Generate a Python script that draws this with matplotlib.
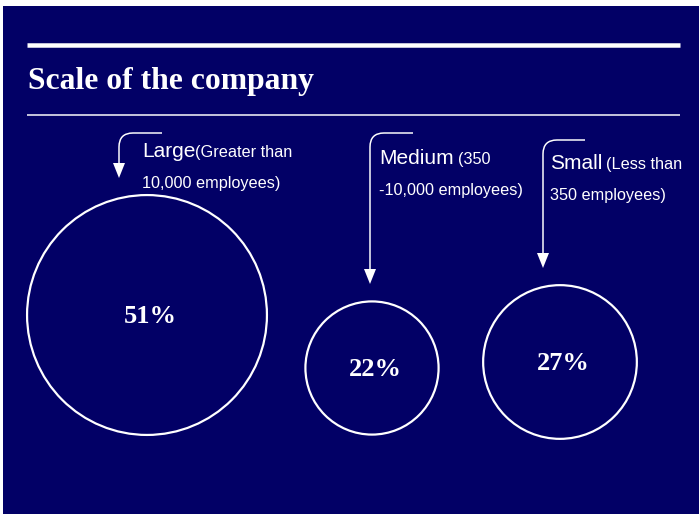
import matplotlib
matplotlib.use("Agg")
import matplotlib.pyplot as plt
from matplotlib.patches import Circle, Rectangle, Polygon, PathPatch
from matplotlib.path import Path

# Data
categories = ["Large", "Medium", "Small"]
shares = [51, 22, 27]
ranges = ["(Greater than\n10,000 employees)", "(350\n-10,000 employees)", "(Less than\n350 employees)"]
title = "Scale of the company"

NAVY = "#020066"
WHITE = "#ffffff"
W, H = 699, 514
PX = 72 / 100  # points per pixel

fig = plt.figure(figsize=(W / 100, H / 100), dpi=100)
fig.patch.set_facecolor("white")
ax = fig.add_axes([0, 0, 1, 1])
ax.set_xlim(0, W)
ax.set_ylim(H, 0)
ax.set_aspect("equal")
ax.axis("off")

# Panel background
ax.add_patch(Rectangle((3, 6), W - 3, H - 6, facecolor=NAVY, edgecolor="none", zorder=0))

# Header rules and title
ax.plot([27, 680], [44.5, 44.5], color=WHITE, lw=4.5 * PX, solid_capstyle="butt")
ax.plot([27, 680], [115, 115], color=WHITE, lw=1.5 * PX, solid_capstyle="butt")
ax.text(28, 89, title, color=WHITE, fontsize=22.8, fontweight="bold",
        family="Liberation Serif", ha="left", va="baseline")

# Bubble layout: radius scaled from the share
centers = [(147, 315), (372, 368), (560, 362)]
k = 7.65
radii = [k * s ** 0.7 for s in shares]

for (cx, cy), r, s in zip(centers, radii, shares):
    ax.add_patch(Circle((cx, cy), r, facecolor="none", edgecolor=WHITE, lw=2.2 * PX, zorder=2))
    ax.text(cx + 3, cy + 8, f"{s}%", color=WHITE, fontsize=19, fontweight="bold",
            family="Liberation Serif", ha="center", va="baseline")

# Category labels with their size ranges
label_pos = [(142, 157), (379, 164), (550, 169)]
line_gap = 31
sans = "Liberation Sans"
for (lx, ly), name, rng in zip(label_pos, categories, ranges):
    first, second = rng.split("\n")
    t = ax.text(lx, ly, name, color=WHITE, fontsize=15, family=sans, ha="left", va="baseline")
    fig.canvas.draw()
    bb = t.get_window_extent()
    x_end = ax.transData.inverted().transform((bb.x1, bb.y0))[0]
    ax.text(x_end + (0 if name == "Large" else 4), ly, first, color=WHITE, fontsize=11.7,
            family=sans, ha="left", va="baseline")
    ax.text(lx, ly + line_gap, second, color=WHITE, fontsize=11.7, family=sans,
            ha="left", va="baseline")

# Bent pointer arrows: (x_start, y_top, x_vertical, y_tip)
arrows = [(162, 133, 119, 178), (413, 133, 370, 284), (585, 140, 543, 268)]
bend = 14
head_w, head_l = 12, 15
for xs, yt, xv, ytip in arrows:
    verts = [(xs, yt), (xv + bend, yt), (xv, yt), (xv, yt + bend), (xv, ytip - head_l + 1)]
    codes = [Path.MOVETO, Path.LINETO, Path.CURVE3, Path.CURVE3, Path.LINETO]
    ax.add_patch(PathPatch(Path(verts, codes), facecolor="none", edgecolor=WHITE,
                           lw=1.5 * PX, zorder=3))
    ax.add_patch(Polygon([(xv - head_w / 2, ytip - head_l), (xv + head_w / 2, ytip - head_l),
                          (xv, ytip)], closed=True, facecolor=WHITE, edgecolor="none", zorder=3))

fig.savefig("out.png", dpi=100, facecolor=fig.get_facecolor())
